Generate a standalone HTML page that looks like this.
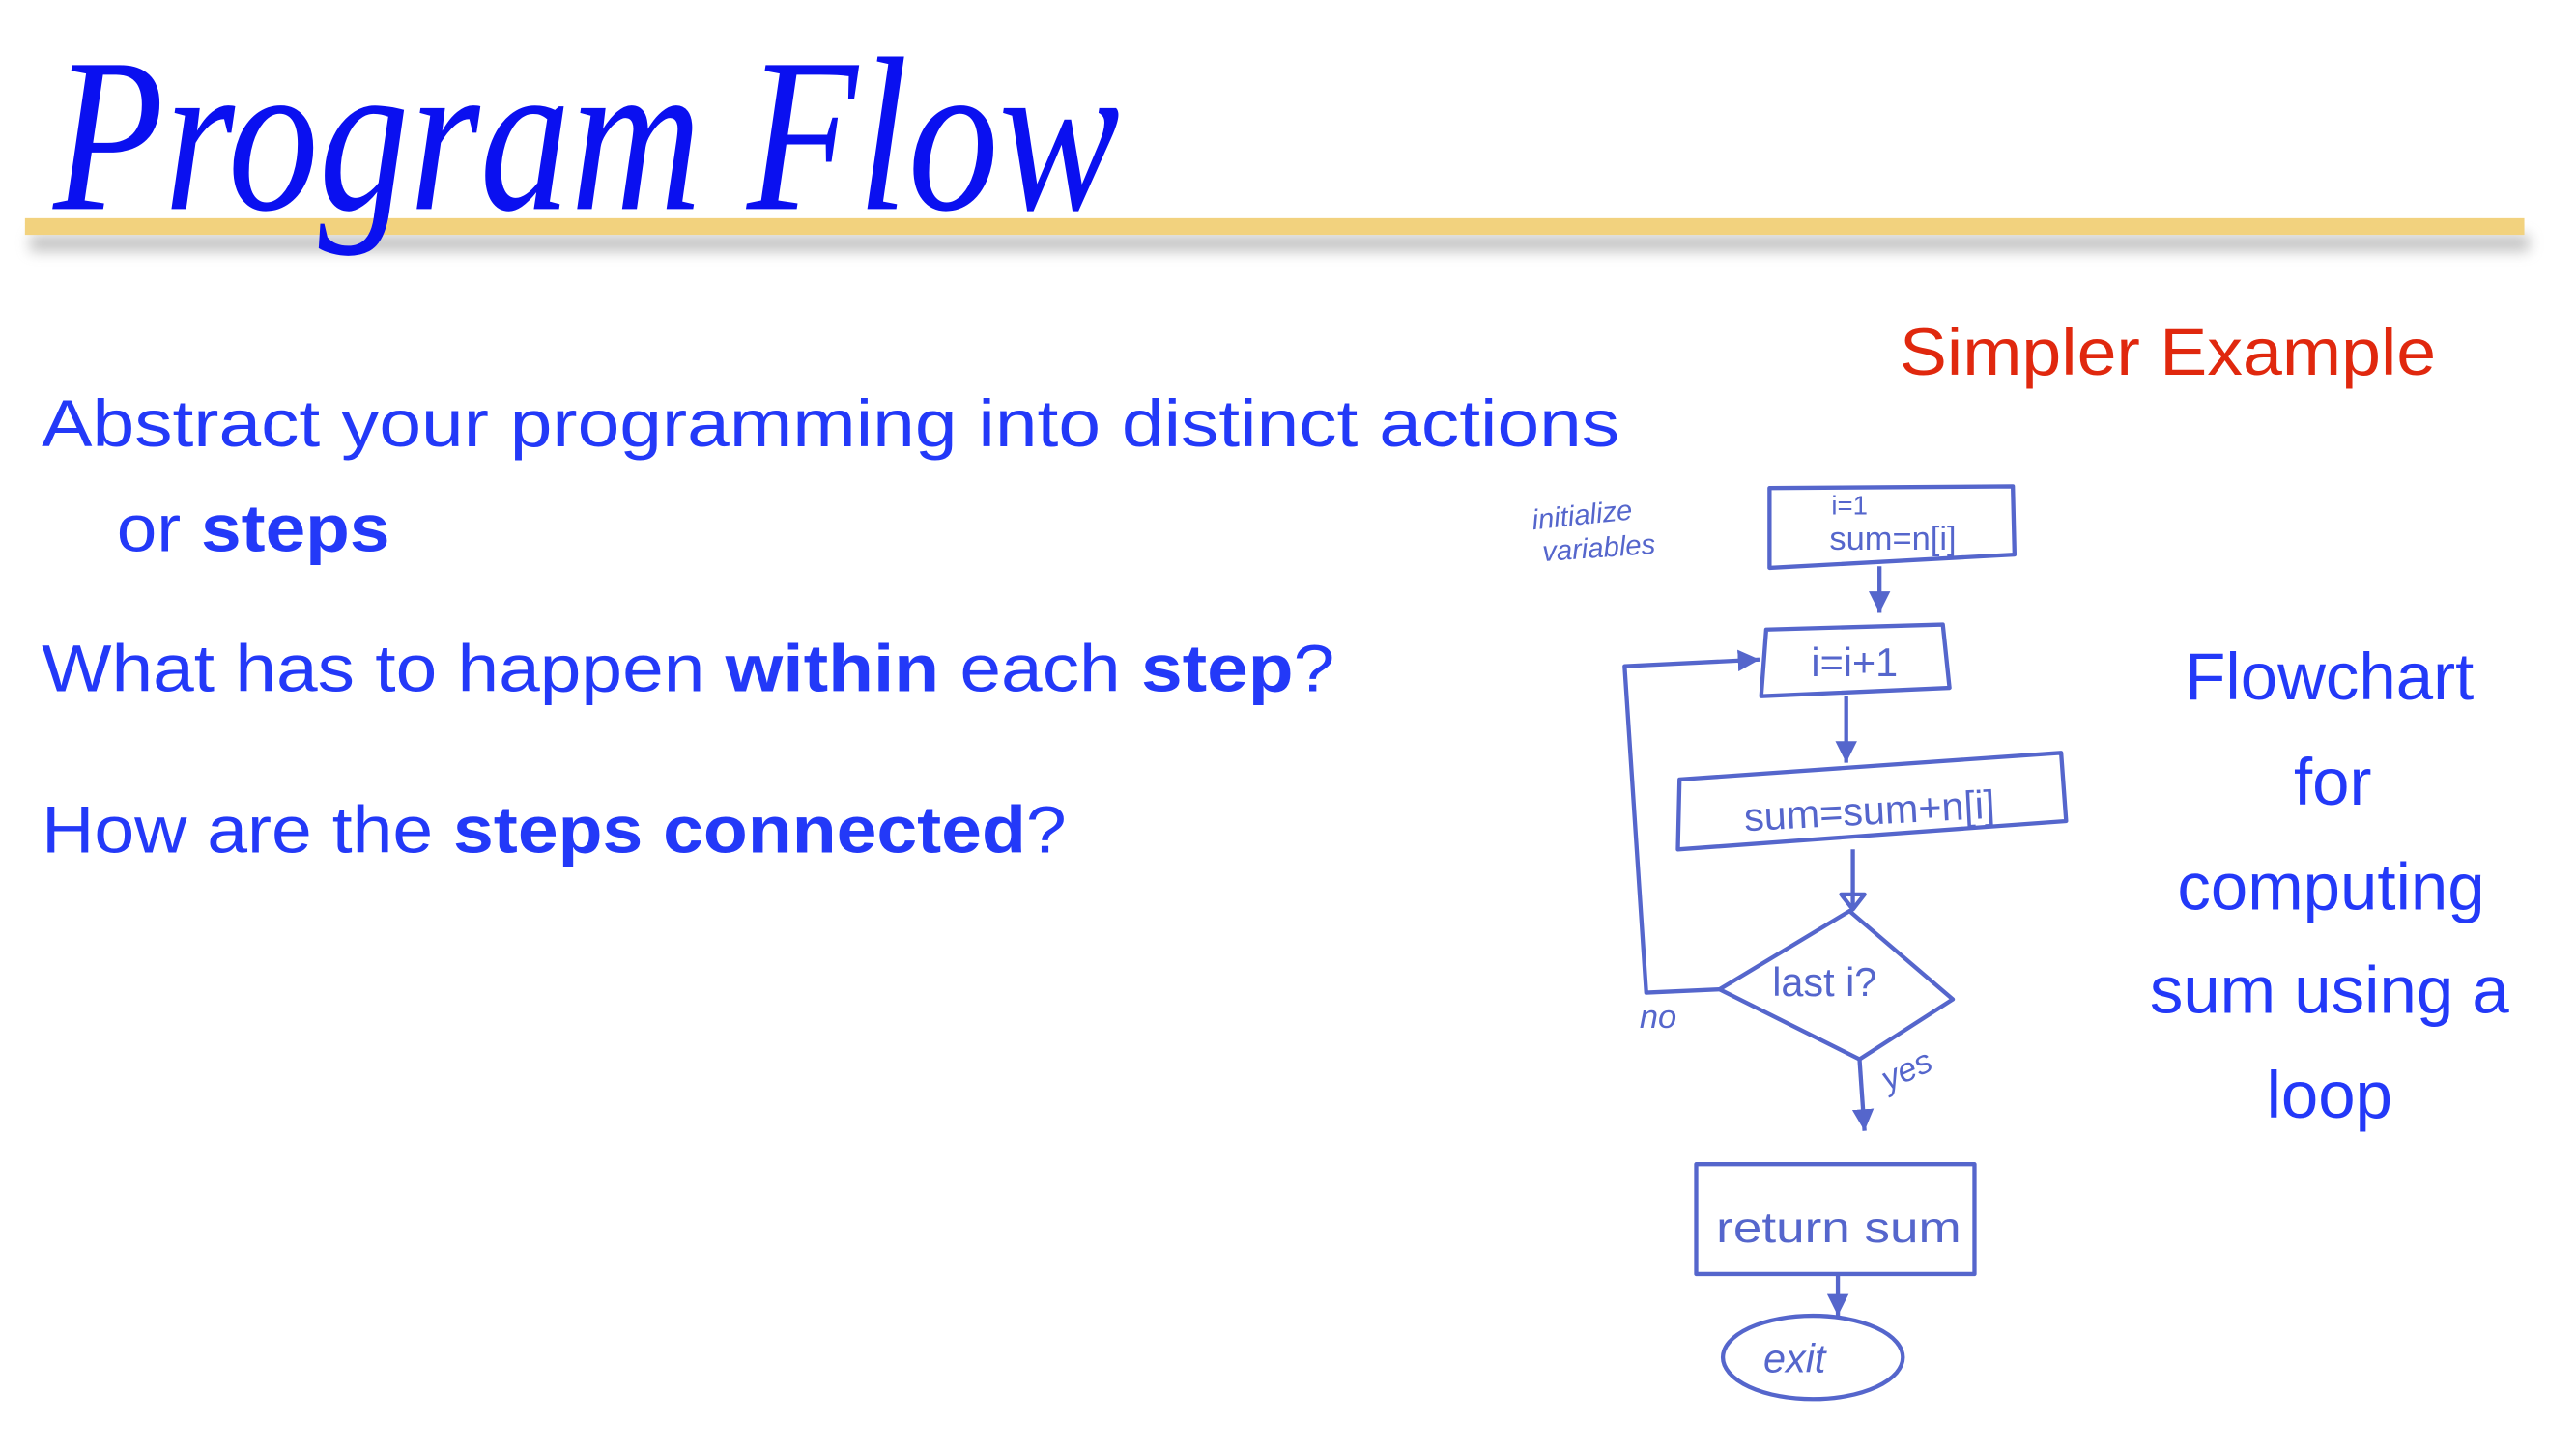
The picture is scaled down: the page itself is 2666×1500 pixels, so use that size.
<!DOCTYPE html>
<html><head><meta charset="utf-8"><style>
html,body{margin:0;padding:0;background:#fff;}
svg{display:block;}
</style></head><body>
<svg width="2666" height="1500" viewBox="0 0 1546 870" preserveAspectRatio="none" xmlns="http://www.w3.org/2000/svg">
<defs>
<filter id="sh" x="-5%" y="-100%" width="110%" height="400%"><feGaussianBlur stdDeviation="4"/></filter>
<marker id="ar" viewBox="0 0 10 10" refX="10" refY="5" markerWidth="13" markerHeight="13" orient="auto" markerUnits="userSpaceOnUse"><path d="M0,0 L10,5 L0,10 Z" fill="#5566cc"/></marker>
</defs>
<rect x="0" y="0" width="1546" height="870" fill="#fff"/>
<rect x="18" y="141" width="1500" height="10" fill="#888" opacity="0.5" filter="url(#sh)"/>
<rect x="15" y="131" width="1500" height="10" fill="#f2d27e"/>
<text x="32" y="125" font-family="Liberation Serif, serif" font-style="italic" font-size="120" fill="#0a10f0" textLength="640" lengthAdjust="spacingAndGlyphs" transform="translate(0,-12) scale(1,1.1)">Program Flow</text>
<text x="1140" y="225" font-family="Liberation Sans, sans-serif" font-size="40" fill="#e0280e" textLength="322" lengthAdjust="spacingAndGlyphs">Simpler Example</text>
<g font-family="Liberation Sans, sans-serif" font-size="40" fill="#2339f8">
<text x="25" y="268" textLength="947" lengthAdjust="spacingAndGlyphs">Abstract your programming into distinct actions</text>
<text x="70" y="331" textLength="164" lengthAdjust="spacingAndGlyphs">or <tspan font-weight="bold">steps</tspan></text>
<text x="25" y="415" textLength="776" lengthAdjust="spacingAndGlyphs">What has to happen <tspan font-weight="bold">within</tspan> each <tspan font-weight="bold">step</tspan>?</text>
<text x="25" y="512" textLength="615" lengthAdjust="spacingAndGlyphs">How are the <tspan font-weight="bold">steps connected</tspan>?</text>
</g>
<g font-family="Liberation Sans, sans-serif" font-size="40" fill="#2339f8" text-anchor="middle">
<text x="1398" y="420">Flowchart</text>
<text x="1400" y="483">for</text>
<text x="1399" y="546">computing</text>
<text x="1398" y="608">sum using a</text>
<text x="1398" y="671">loop</text>
</g>
<g stroke="#5566cc" stroke-width="2.5" fill="none" stroke-linejoin="round">
<path d="M1062,293 L1208,292 L1209,333 L1062,341 Z"/>
<path d="M1128,340 L1128,368" marker-end="url(#ar)"/>
<path d="M1060,378 L1166,375 L1170,413 L1057,418 Z"/>
<path d="M1108,418 L1108,458" marker-end="url(#ar)"/>
<path d="M1008,468 L1237,452 L1240,493 L1007,510 Z"/>
<path d="M1112,510 L1112,545"/>
<path d="M1105,537 L1119,537 L1112,546 Z"/>
<path d="M1110,547 L1172,600 L1116,636 L1032,594 Z"/>
<path d="M1032,594 L988,596 L975,400 L1056,396" marker-end="url(#ar)"/>
<path d="M1116,636 L1119,679" marker-end="url(#ar)"/>
<rect x="1018" y="699" width="167" height="66"/>
<path d="M1103,765 L1103,790" marker-end="url(#ar)"/>
<ellipse cx="1088" cy="815" rx="54" ry="25"/>
</g>
<g font-family="Liberation Sans, sans-serif" fill="#5566cc">
<text x="1110" y="309" font-size="16" text-anchor="middle">i=1</text>
<text x="1136" y="330" font-size="20" text-anchor="middle">sum=n[i]</text>
<text x="1113" y="406" font-size="24" text-anchor="middle">i=i+1</text>
<text x="1122" y="495" font-size="24" text-anchor="middle" transform="rotate(-3 1122 488)">sum=sum+n[i]</text>
<text x="1095" y="598" font-size="24" text-anchor="middle">last i?</text>
<text x="1030" y="746" font-size="26" textLength="147" lengthAdjust="spacingAndGlyphs">return sum</text>
<text x="1077" y="824" font-size="24" text-anchor="middle" font-style="italic">exit</text>
<text x="920" y="318" font-size="17" font-style="italic" transform="rotate(-6 920 318)">initialize</text>
<text x="926" y="337" font-size="17" font-style="italic" transform="rotate(-4 926 337)">variables</text>
<text x="984" y="617" font-size="20" font-style="italic">no</text>
<text x="1133" y="655" font-size="20" font-style="italic" transform="rotate(-25 1133 655)">yes</text>
</g>
</svg>
</body></html>
